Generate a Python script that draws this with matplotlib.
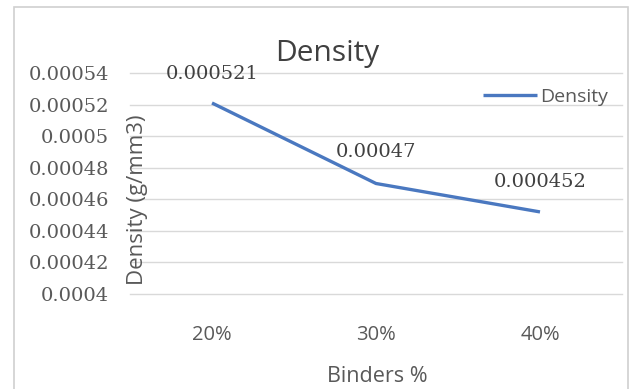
import matplotlib

matplotlib.use("Agg")
import matplotlib.pyplot as plt
from matplotlib.patches import Rectangle

binders = ["20%", "30%", "40%"]
density = [0.000521, 0.00047, 0.000452]
data_labels = ["0.000521", "0.00047", "0.000452"]
y_ticks = [0.0004, 0.00042, 0.00044, 0.00046, 0.00048, 0.0005, 0.00052, 0.00054]

LINE = "#4a78c0"
GRID = "#d9d9d9"
TXT = "#595959"
SANS = "Open Sans"
SERIF = "DejaVu Serif"

fig = plt.figure(figsize=(6.37, 3.89), dpi=100)
fig.patches.append(Rectangle((14 / 637, -0.01), 614 / 637, 1 - 7 / 389 + 0.01,
                             transform=fig.transFigure, fill=False,
                             edgecolor="#d0d0d0", linewidth=1.2))

ax = fig.add_axes([130 / 637, 1 - 294 / 389, 492 / 637, 221 / 389])
x = list(range(len(binders)))
ax.plot(x, density, color=LINE, linewidth=2.4, label="Density", solid_capstyle="butt")
ax.set_xlim(-0.5, len(binders) - 0.5)
ax.set_ylim(0.0004, 0.00054)
ax.set_yticks(y_ticks)
ax.set_yticklabels([f"{v:.5f}".rstrip("0") for v in y_ticks],
                   fontfamily=SERIF, fontsize=14, color=TXT)
ax.set_xticks(x)
ax.set_xticklabels(binders, fontfamily=SANS, fontsize=14.5, color=TXT)
ax.tick_params(axis="y", length=0, pad=15)
ax.tick_params(axis="x", length=0, pad=22)
ax.grid(axis="y", color=GRID, linewidth=1)
for gl in ax.get_ygridlines():
    gl.set_clip_on(False)
for s in ax.spines.values():
    s.set_visible(False)
ax.set_axisbelow(True)

# data labels
offsets = [(0, 29), (0, 32), (0, 30)]
for xi, yi, lab, (dx, dy) in zip(x, density, data_labels, offsets):
    ax.annotate(lab, (xi, yi), xytext=(dx, dy), textcoords="offset pixels",
                ha="center", va="center", fontfamily=SERIF, fontsize=14, color="#404040")

fig.text(327 / 637, 1 - 53 / 389, "Density", ha="center", va="center",
         fontfamily=SANS, fontsize=21.5, color="#404040")
fig.text(138 / 637, 1 - 200 / 389, "Density (g/mm3)", rotation=90, ha="center",
         va="center", fontfamily=SANS, fontsize=16, color=TXT)
fig.text(377 / 637, 1 - 376 / 389, "Binders %", ha="center", va="center",
         fontfamily=SANS, fontsize=15.5, color=TXT)

leg = ax.legend(loc="center right", bbox_to_anchor=(608 / 637, 1 - 97 / 389),
                bbox_transform=fig.transFigure, frameon=False,
                prop={"family": SANS, "size": 14}, handlelength=2.8,
                handletextpad=0.15, borderaxespad=0, borderpad=0)
for t in leg.get_texts():
    t.set_color(TXT)

fig.savefig("out.png", dpi=100)
